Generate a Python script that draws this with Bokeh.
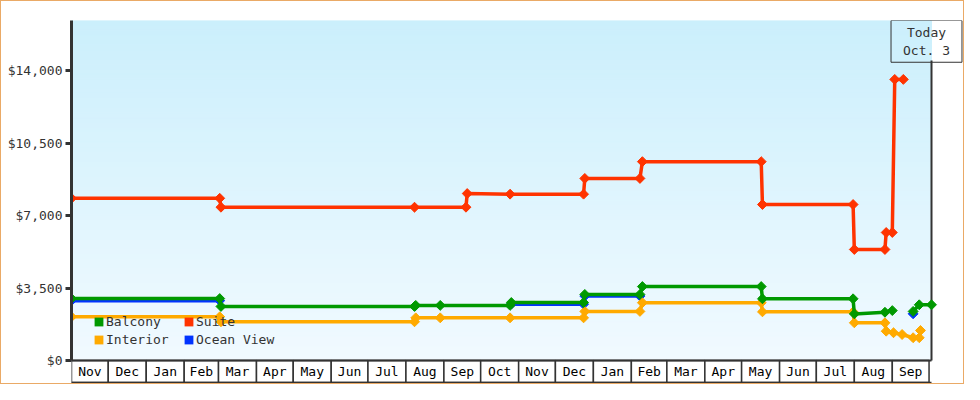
import numpy as np
import pandas as pd
from bokeh.plotting import figure
from bokeh.models import Range1d, FixedTicker, Legend, LegendItem, Label
from bokeh.embed import file_html
from bokeh.resources import INLINE
from bokeh.core.properties import value

NAN = float("nan")

# ---------------- data ----------------
suite_dates = ["2022-11-01", "2023-03-02", "2023-03-03", "2023-08-08", "2023-09-19",
               "2023-09-20", "2023-10-25", "2023-12-24", "2023-12-25", "2024-02-08",
               "2024-02-10", "2024-05-17", "2024-05-18", "2024-07-31", "2024-08-01",
               "2024-08-26", "2024-08-27", "2024-09-01", "2024-09-03", "2024-09-10"]
suite_prices = [7830, 7830, 7400, 7400, 7400,
                8060, 8030, 8030, 8790, 8790,
                9600, 9600, 7530, 7530, 5360,
                5360, 6180, 6180, 13570, 13570]

balcony_dates = ["2022-11-01", "2023-03-02", "2023-03-03", "2023-08-08", "2023-08-09",
                 "2023-08-29", "2023-10-25", "2023-10-26", "2023-12-24", "2023-12-25",
                 "2024-02-08", "2024-02-10", "2024-05-17", "2024-05-18", "2024-07-31",
                 "2024-08-01", "2024-08-26", "2024-09-01", "2024-09-10", "2024-09-18",
                 "2024-09-23", "2024-10-03"]
balcony_prices = [2990, 2990, 2610, 2610, 2660,
                  2660, 2660, 2800, 2800, 3190,
                  3190, 3570, 3570, 2980, 2980,
                  2250, 2330, 2410, NAN, 2370,
                  2690, 2690]

interior_dates = ["2022-11-01", "2023-03-02", "2023-03-03", "2023-08-08", "2023-08-09",
                  "2023-08-29", "2023-10-25", "2023-12-24", "2023-12-25", "2024-02-08",
                  "2024-02-10", "2024-05-17", "2024-05-18", "2024-07-31", "2024-08-01",
                  "2024-08-26", "2024-08-27", "2024-09-02", "2024-09-09", "2024-09-18",
                  "2024-09-23", "2024-09-24"]
interior_prices = [2110, 2110, 1870, 1870, 2060,
                   2060, 2060, 2060, 2370, 2370,
                   2790, 2790, 2350, 2350, 1820,
                   1820, 1415, 1340, 1255, 1100,
                   1100, 1450]

ocean_dates = ["2022-11-01", "2023-03-02", "2023-06-01", "2023-10-26", "2023-12-24",
               "2023-12-25", "2024-02-08", "2024-06-01", "2024-09-18"]
ocean_prices = [2890, 2890, NAN, 2720, 2720,
                3110, 3110, NAN, 2255]

y_ticks = [0, 3500, 7000, 10500, 14000]
y_tick_labels = ["$0", "$3,500", "$7,000", "$10,500", "$14,000"]

month_labels = ["Nov", "Dec", "Jan", "Feb", "Mar", "Apr", "May", "Jun", "Jul", "Aug",
                "Sep", "Oct", "Nov", "Dec", "Jan", "Feb", "Mar", "Apr", "May", "Jun",
                "Jul", "Aug", "Sep"]

START = pd.Timestamp("2022-11-01")
TODAY = pd.Timestamp("2024-10-03")
today_text = "Today\nOct. 3"

# ---------------- styling constants ----------------
FONT = "DejaVu Sans Mono"
Y_TOP = 16414
Y_MIN = -1110
ROW = 1062
RIGHT_TOP = 14480
DARK = "#333333"
C_BALCONY = "#009900"
C_SUITE = "#ff3300"
C_INTERIOR = "#ffaa00"
C_OCEAN = "#0033ff"

span_days = 702 * 892 / 860
X_END = START + pd.Timedelta(days=span_days)

p = figure(width=964, height=384, x_axis_type="datetime", x_axis_location=None,
           x_range=Range1d(START, X_END), y_range=Range1d(Y_MIN, Y_TOP),
           output_backend="svg", toolbar_location=None,
           min_border_left=70, min_border_right=2, min_border_top=19, min_border_bottom=2,
           background_fill_color="white", border_fill_color="white",
           outline_line_color=None)
p.grid.visible = False
p.styles = {"border": "1px solid #eaaa66", "box-sizing": "border-box"}

# left axis
ya = p.yaxis[0]
ya.ticker = FixedTicker(ticks=y_ticks)
ya.major_label_overrides = {t: s for t, s in zip(y_ticks, y_tick_labels)}
ya.bounds = (0, Y_TOP)
ya.axis_line_color = DARK
ya.axis_line_width = 3
ya.major_tick_line_color = DARK
ya.major_tick_line_width = 3
ya.major_tick_out = 6
ya.major_tick_in = 0
ya.minor_tick_line_color = None
ya.major_label_standoff = 3
ya.major_label_text_font = FONT
ya.major_label_text_font_size = "13px"
ya.major_label_text_color = DARK

# gradient background (up to today)
N = 70
edges = np.linspace(0, Y_TOP, N + 1)
top_c = np.array([203, 239, 252])
bot_c = np.array([241, 250, 255])
fr = (np.arange(N) + 0.5) / N
cols = ["#%02x%02x%02x" % tuple(np.round(bot_c + (top_c - bot_c) * f).astype(int)) for f in fr]
p.quad(left=START, right=TODAY, bottom=edges[:-1], top=edges[1:],
       fill_color=cols, line_color=cols, line_width=1, level="image")

# month boxes
m_starts = pd.date_range(START, periods=len(month_labels), freq="MS")
m_ends = m_starts + pd.offsets.MonthBegin(1)
m_mids = m_starts + (m_ends - m_starts) / 2
p.quad(left=m_starts, right=m_ends, bottom=-ROW, top=0,
       fill_color="white", line_color=DARK, line_width=1.5)
p.text(x=m_mids, y=-ROW / 2, text=month_labels, text_align="center",
       text_baseline="middle", text_font=value(FONT), text_font_size="13px",
       text_color="#000000")
# row frame lines and right edge of the plot (today)
p.segment(x0=[START, START], x1=[TODAY, TODAY], y0=[0, -ROW], y1=[0, -ROW],
          line_color=DARK, line_width=[2, 1.5])
p.segment(x0=[TODAY], x1=[TODAY], y0=[0], y1=[RIGHT_TOP], line_color=DARK, line_width=2)

# series
def series(dates, prices, color):
    d = pd.to_datetime(dates)
    p.line(d, prices, line_color=color, line_width=3.5)
    p.scatter(d, prices, marker="square", angle=np.pi / 4, size=7,
              fill_color=color, line_color=color, line_width=1)

series(ocean_dates, ocean_prices, C_OCEAN)
series(interior_dates, interior_prices, C_INTERIOR)
series(suite_dates, suite_prices, C_SUITE)
series(balcony_dates, balcony_prices, C_BALCONY)

# legend with square swatches
def swatch(color):
    return p.quad(left=[NAN], right=[NAN], bottom=[NAN], top=[NAN],
                  fill_color=color, line_color=None)

items = [LegendItem(label="Balcony", renderers=[swatch(C_BALCONY)]),
         LegendItem(label="Interior", renderers=[swatch(C_INTERIOR)]),
         LegendItem(label="Suite", renderers=[swatch(C_SUITE)]),
         LegendItem(label="Ocean View", renderers=[swatch(C_OCEAN)])]
legend = Legend(items=items, location=(22, 36), ncols=2, orientation="vertical",
                glyph_width=11, glyph_height=11, label_standoff=2, spacing=3,
                padding=0, margin=0, label_width=74, label_height=11,
                background_fill_alpha=0, border_line_color=None,
                label_text_font=FONT, label_text_font_size="13px",
                label_text_color=DARK, level="underlay")
p.add_layout(legend)

# today box
p.add_layout(Label(x=TODAY, y=Y_TOP, x_offset=-5, text=today_text, text_align="center",
                   text_baseline="top", text_font=FONT, text_font_size="13px",
                   text_color=DARK, text_line_height=1.25,
                   border_line_color=DARK, border_line_width=1,
                   background_fill_color=None, padding=(12, 4)))

open("out.html", "w").write(file_html(p, INLINE))
